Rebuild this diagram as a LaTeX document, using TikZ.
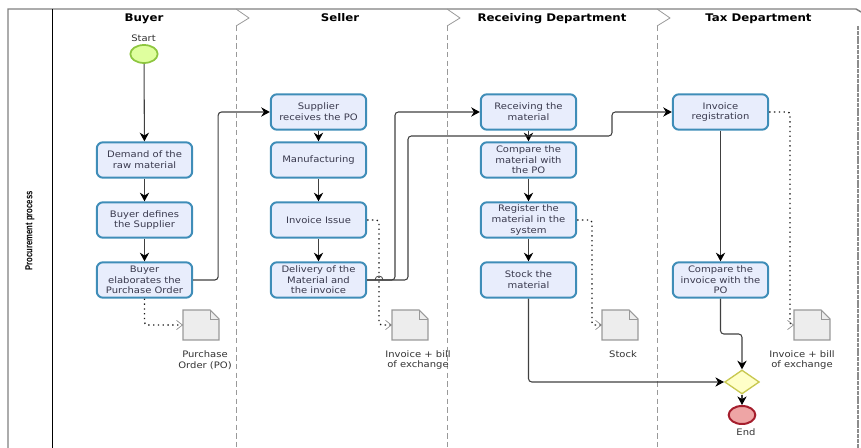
\documentclass[tikz,border=0pt]{standalone}
\usepackage{fontspec}
\setmainfont[FakeStretch=1.12]{DejaVu Sans}
\newfontfamily\narrowfont{Liberation Sans}
\usetikzlibrary{arrows.meta,shapes.geometric}
\definecolor{txt}{HTML}{3A3A4E}
\definecolor{boxfill}{HTML}{E8EDFC}
\definecolor{boxline}{HTML}{3F8DB8}
\definecolor{lanegray}{HTML}{999999}
\definecolor{startline}{HTML}{8DC63F}
\definecolor{startfill}{HTML}{DFFF9E}
\tikzset{
  x=0.75pt,y=-0.75pt,
  task/.style={draw=boxline,fill=boxfill,line width=1.5pt,rounded corners=4.5pt,minimum width=71.5pt,minimum height=26.5pt,inner sep=0pt,align=center,text=txt,font=\fontsize{6.7pt}{8pt}\selectfont},
  lane/.style={font=\bfseries\fontsize{7.9pt}{9pt}\selectfont,text=black,inner sep=0pt,anchor=base},
  lanesep/.style={draw=lanegray,line width=0.75pt,dash pattern=on 4pt off 2.5pt},
  chevron/.style={draw=lanegray,line width=0.6pt},
  flow/.style={draw=black!75,line width=0.8pt,rounded corners=2.5pt,-{Stealth[length=6.5pt,width=7pt,black]}},
  hop/.style={draw=black!75,line width=0.6pt},
  assoc/.style={draw=black!90,line width=1pt,dash pattern=on 1pt off 2.6pt,rounded corners=2pt,-{Straight Barb[length=4.5pt,width=7pt,black!45,line width=0.5pt]}},
  caption/.style={font=\fontsize{6.7pt}{8pt}\selectfont,text=black!80,align=center,inner sep=0pt},
  document/.style={draw=lanegray,fill=black!7,line width=0.8pt},
}
\newcommand{\docshape}[2]{%
  \draw[document] (#1,310) -- ++(27,0) -- ++(9,9) -- ++(0,21) -- ++(-36,0) -- cycle;
  \draw[draw=lanegray,line width=0.5pt] (#1+27,310) -- ++(0,9) -- ++(9,0);
  \coordinate (#2) at (#1,325);
}
\begin{document}
\begin{tikzpicture}
\useasboundingbox (0,0) rectangle (861,448);
% frame
\draw[draw=black!50,line width=1.1pt] (8,448) -- (8,9) -- (856,9) -- (861,12);
\draw[draw=black,line width=0.7pt] (52,9) -- (52,448);
\draw[draw=black!45,line width=1.8pt,dash pattern=on 3pt off 0.6pt] (858,26) -- (858,448);
% lane separators
\foreach \lx in {236,447,657}{
  \draw[chevron] (\lx,9) -- (\lx+13,18) -- (\lx,26);
  \draw[lanesep] (\lx,26) -- (\lx,448);
}
% titles
\node[lane] (t1) at (144,21.5) {Buyer};
\node[lane] (t2) at (340,21.5) {Seller};
\node[lane] (t3) at (552,21.5) {Receiving Department};
\node[lane] (t4) at (758.5,21.5) {Tax Department};
\node[rotate=90,inner sep=0pt,font=\narrowfont\bfseries\fontsize{7.6pt}{9pt}\selectfont] (proc) at (30,231) {\scalebox{0.76}[1]{Procurement process}};
% events
\node[draw=startline,fill=startfill,line width=1.3pt,ellipse,minimum width=20.5pt,minimum height=13.5pt,inner sep=0pt] (start) at (144,54) {};
\node[caption] (startl) at (143.5,38.5) {Start};
\node[draw={rgb,255:red,165;green,30;blue,45},fill={rgb,255:red,238;green,165;blue,165},line width=1.5pt,ellipse,minimum width=20pt,minimum height=13.5pt,inner sep=0pt] (end) at (742,415) {};
\node[caption] (endl) at (746,432.5) {End};
\node[draw={rgb,255:red,200;green,200;blue,80},fill={rgb,255:red,255;green,255;blue,200},line width=1pt,diamond,aspect=1.4,minimum width=26pt,minimum height=18pt,inner sep=0pt] (gate) at (742,382) {};
% tasks
\node[task] (demand) at (144.5,160) {Demand of the\\raw material};
\node[task] (defines) at (144.5,220) {Buyer defines\\the Supplier};
\node[task] (elab) at (144.5,280) {Buyer\\elaborates the\\Purchase Order};
\node[task] (sup) at (318.5,112) {Supplier\\receives the PO};
\node[task] (manu) at (318.5,160) {Manufacturing};
\node[task] (issue) at (318.5,220) {Invoice Issue};
\node[task] (deliv) at (318.5,280) {Delivery of the\\Material and\\the invoice};
\node[task] (recv) at (528.5,112) {Receiving the\\material};
\node[task] (comp) at (528.5,160) {Compare the\\material with\\the PO};
\node[task] (reg) at (528.5,220) {Register the\\material in the\\system};
\node[task] (stock) at (528.5,280) {Stock the\\material};
\node[task] (invreg) at (720.5,112) {Invoice\\registration};
\node[task] (compinv) at (720.5,280) {Compare the\\invoice with the\\PO};
% documents
\docshape{183}{d1}
\docshape{392}{d2}
\docshape{602}{d3}
\docshape{794}{d4}
\node[caption] (c1) at (205,360) {Purchase\\Order (PO)};
\node[caption] (c2) at (418,360) {Invoice + bill\\of exchange};
\node[caption] (c3) at (623,354.5) {Stock};
\node[caption] (c4) at (802,360) {Invoice + bill\\of exchange};
% associations
\draw[assoc] (elab.south) |- (d1);
\draw[assoc] (issue.east) -- (379,220) |- (d2);
\draw[assoc] (reg.east) -- (592,220) |- (d3);
\draw[assoc] (invreg.east) -- (790,112) |- (d4);
% sequence flows
\draw[flow] (start) -- (demand);
\draw[flow] (demand) -- (defines);
\draw[flow] (defines) -- (elab);
\draw[flow] (sup) -- (manu);
\draw[flow] (manu) -- (issue);
\draw[flow] (issue) -- (deliv);
\draw[flow] (recv) -- (comp);
\draw[flow] (comp) -- (reg);
\draw[flow] (reg) -- (stock);
\draw[flow] (invreg) -- (compinv);
\draw[flow] (elab.east) -- ++(25,0) |- (sup.west);
\draw[flow] (deliv.east) -- (395,280) |- (recv.west);
\draw[flow] (deliv.east) -- (408,280) -- (408,136) -- (612,136) |- (invreg.west);
\draw[hop] (375,280) arc[start angle=180,end angle=360,radius=4];
\draw[flow] (stock.south) |- (gate.west);
\draw[flow] (compinv.south) -- (720.5,334) -- (742,334) -- (gate.north);
\draw[flow] (gate.south) -- (end.north);
\end{tikzpicture}
\end{document}
